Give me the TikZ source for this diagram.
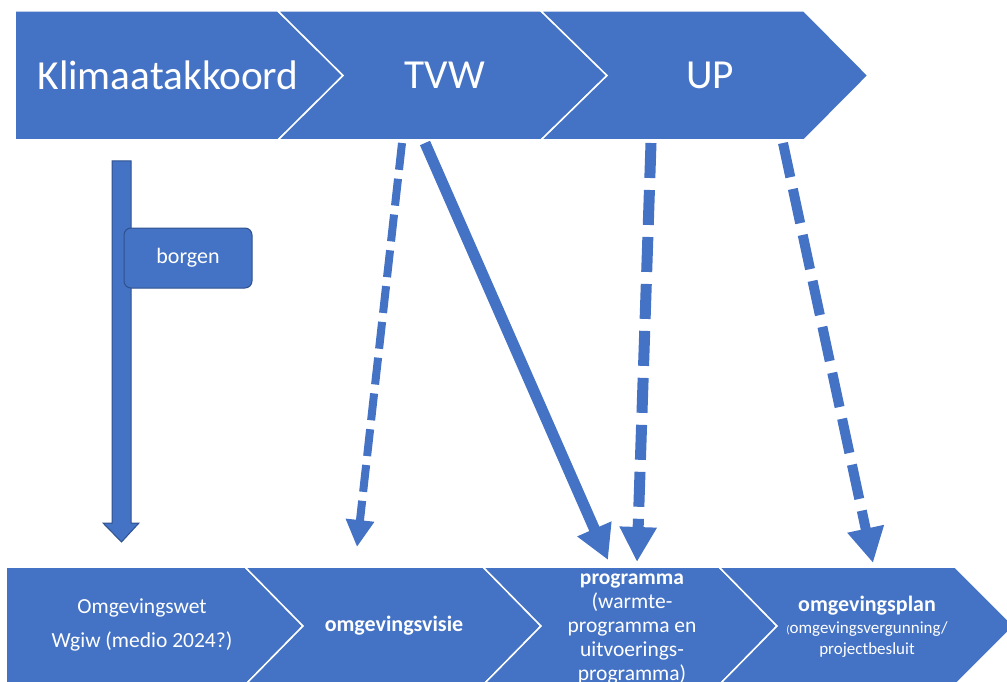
\documentclass[tikz,border=0pt]{standalone}
\usepackage{fontspec}
\setmainfont{Carlito}
\usetikzlibrary{arrows.meta}
\definecolor{ofblue}{HTML}{4472C4}
\definecolor{ofdark}{HTML}{2F528F}
\tikzset{
  chev/.style={fill=ofblue, draw=white, line width=1.5pt, line join=miter},
  bigtxt/.style={text=white, font=\fontsize{41.3}{48}\selectfont, inner sep=0pt},
  smalltxt/.style={text=white, font=\fontsize{21.5}{24}\selectfont, align=center, inner sep=0pt},
  linkarrow/.style={draw=ofblue, line width=#1},
  dashA/.style={dash pattern=on 27pt off 9pt},
  dashB/.style={dash pattern=on 35pt off 12pt},
}
\begin{document}
\begin{tikzpicture}[x=1pt,y=-1pt]
\useasboundingbox (0,0) rectangle (1007,682);
\clip (0,0) rectangle (1007,682);
% top row
\path[chev] (15,11) -- (278,11) -- (343,75.5) -- (278,140) -- (15,140) -- cycle;
\path[chev] (278,11) -- (541,11) -- (607,75.5) -- (541,140) -- (278,140) -- (343,75.5) -- cycle;
\path[chev] (541,11) -- (804,11) -- (868,75.5) -- (804,140) -- (541,140) -- (607,75.5) -- cycle;
\node[bigtxt] (klim) at (168,75) {Klimaatakkoord};
\node[bigtxt] (tvw) at (445,75) {TVW};
\node[bigtxt] (up) at (710,75) {UP};
% bottom row
\path[chev] (6,567) -- (245,567) -- (303,626) -- (245,685) -- (6,685) -- cycle;
\path[chev] (245,567) -- (483,567) -- (541,626) -- (483,685) -- (245,685) -- (303,626) -- cycle;
\path[chev] (483,567) -- (719,567) -- (777,626) -- (719,685) -- (483,685) -- (541,626) -- cycle;
\path[chev] (719,567) -- (955,567) -- (1014,626) -- (955,685) -- (719,685) -- (777,626) -- cycle;
\node[smalltxt, font=\fontsize{21.5}{34}\selectfont] (ow) at (142,625) {Omgevingswet\\Wgiw (medio 2024?)};
\node[smalltxt, font=\fontsize{22}{24}\selectfont\bfseries] (ov) at (394,626) {omgevingsvisie};
\node[smalltxt] (prog) at (632,629) {\textbf{programma}\\(warmte-\\programma en\\uitvoerings-\\programma)};
\node[smalltxt] (op) at (867,627) {{\fontsize{22}{24}\selectfont\bfseries omgevingsplan}\\[-2pt]{\fontsize{17}{20}\selectfont{\fontsize{11}{12}\selectfont(}omgevingsvergunning/}\\[-3pt]{\fontsize{17}{20}\selectfont projectbesluit}};
% block arrow
\path[fill=ofblue, draw=ofdark, line width=1pt, line join=miter]
  (112,161) -- (131,161) -- (131,523) -- (139,523) -- (121.5,542) -- (103,523) -- (112,523) -- cycle;
\node[fill=ofblue, draw=ofdark, line width=1pt, rounded corners=7pt, minimum width=128pt, minimum height=60pt, text=white, font=\fontsize{22}{24}\selectfont] (borgen) at (188,258) {borgen};
% connectors
\coordinate (a1s) at (402,143); \coordinate (a1e) at (357,547);
\coordinate (a2s) at (425,143); \coordinate (a2e) at (608,560);
\coordinate (a3s) at (651,143); \coordinate (a3e) at (637,562);
\coordinate (a4s) at (783,143); \coordinate (a4e) at (873,563);
\draw[linkarrow=8pt, dashA, -{Triangle[width=27pt,length=27pt]}] (a1s) -- (a1e);
\draw[linkarrow=11pt, -{Triangle[width=35pt,length=34pt]}] (a2s) -- (a2e);
\draw[linkarrow=11pt, dashB, -{Triangle[width=35pt,length=35pt]}] (a3s) -- (a3e);
\draw[linkarrow=10pt, dashB, -{Triangle[width=35pt,length=35pt]}] (a4s) -- (a4e);
\end{tikzpicture}
\end{document}
